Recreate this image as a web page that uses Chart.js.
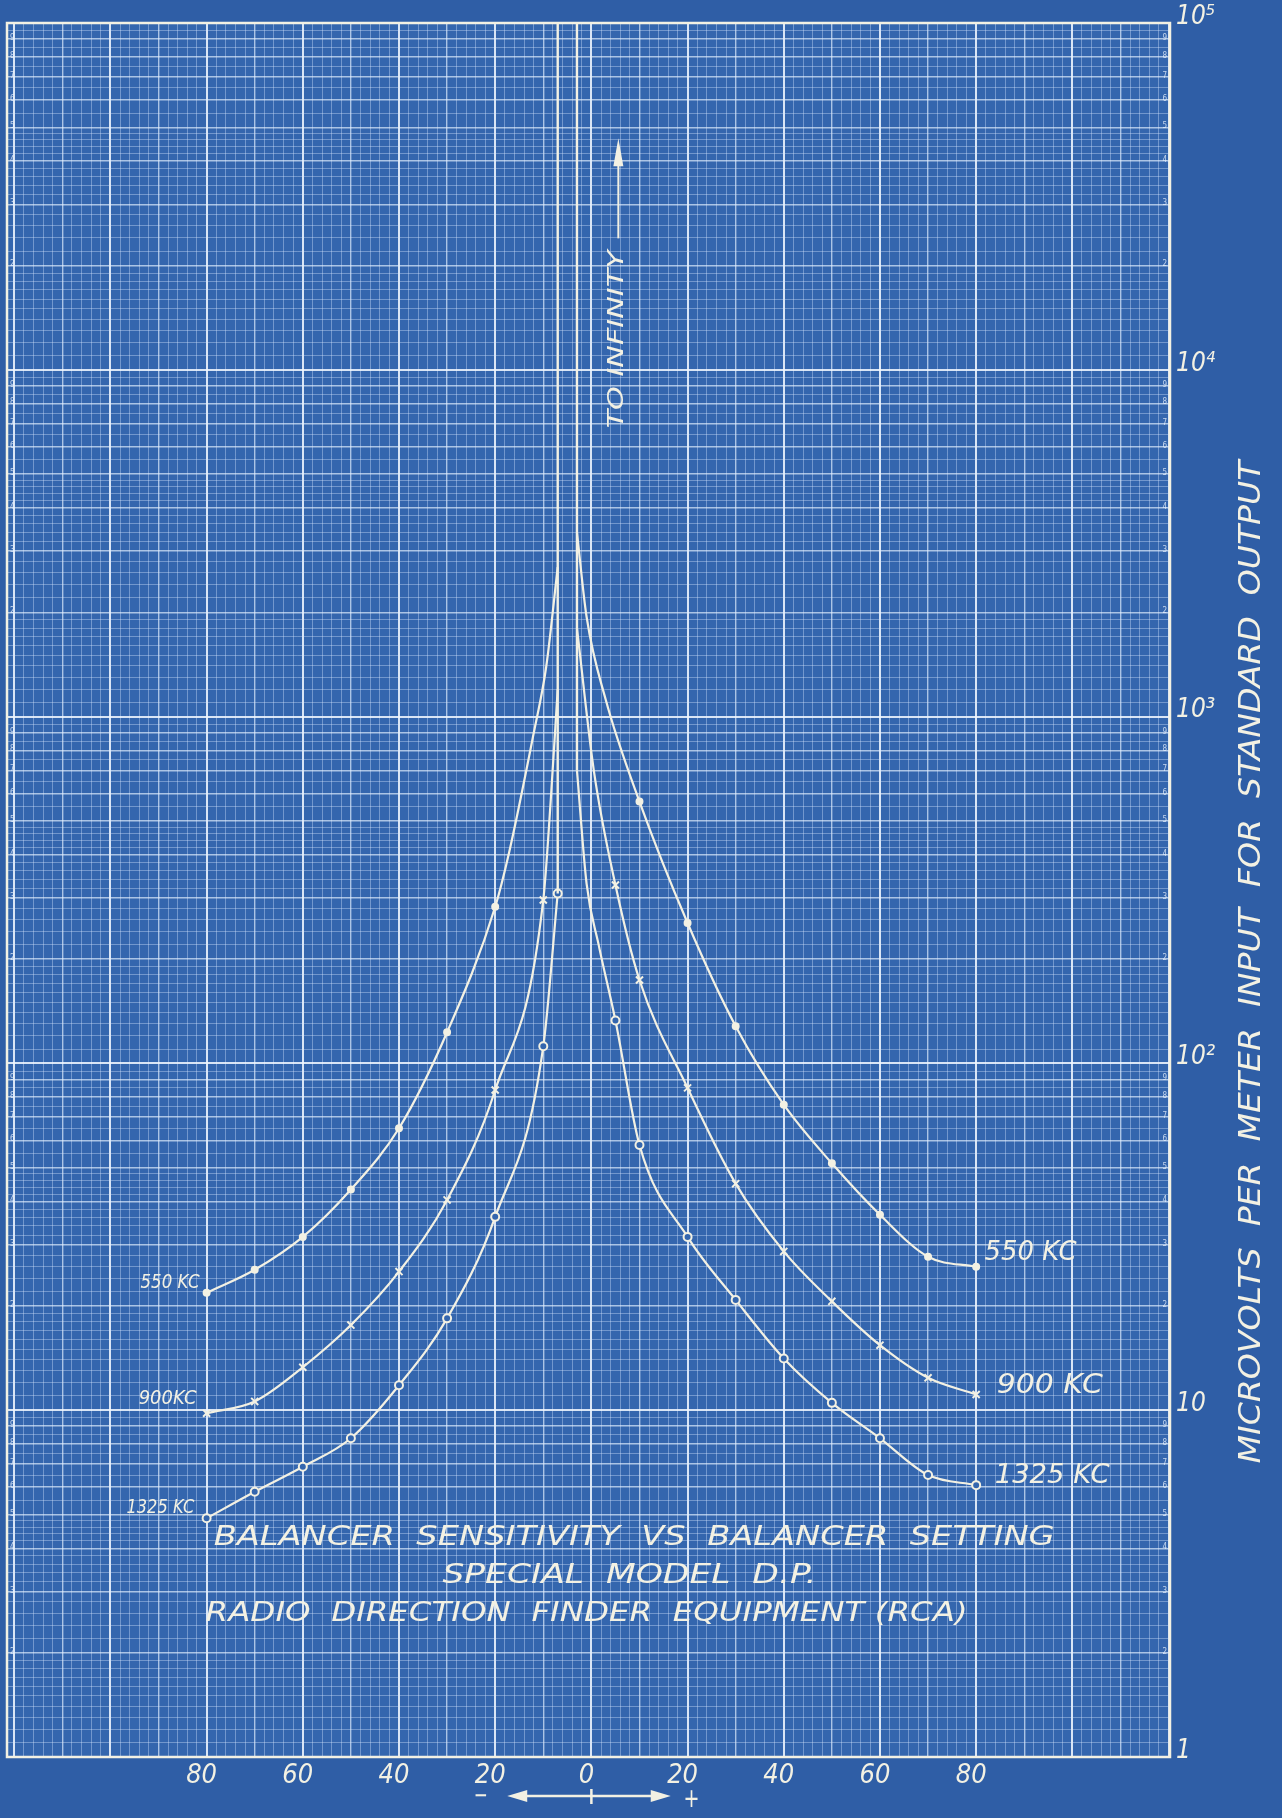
<!DOCTYPE html>
<html>
<head>
<meta charset="utf-8">
<title>Balancer Sensitivity vs Balancer Setting</title>
<script src="https://cdn.jsdelivr.net/npm/chart.js@4.4.1/dist/chart.umd.min.js"></script>
<style>
  html, body { margin: 0; padding: 0; background: #2f5ea6; }
  #chart { display: block; }
</style>
</head>
<body>
<canvas id="chart" width="1282" height="1818"></canvas>
<script>
// ---- values read off the blueprint ----
// x = balancer setting, y = microvolts per meter for standard output

const xTickLabels = [-80, -60, -40, -20, 0, 20, 40, 60, 80];
const yTickLabels = { 1: '1', 10: '10', 100: '10²', 1000: '10³', 10000: '10⁴', 100000: '10⁵' };

// 550 KC
const set550L = [-80, -70, -60, -50, -40, -30, -20];
const val550L = [21.8, 25.4, 31.6, 43.3, 65, 123, 283];
const trace550L = [-17, -12, -9.4, -7];
const traceVal550L = [412, 895, 1390, 2700];
const set550R = [10, 20, 30, 40, 50, 60, 70, 80];
const val550R = [569, 254, 128, 76, 51.5, 36.6, 27.7, 25.9];
const trace550R = [-3, -1, 3];
const traceVal550R = [3400, 1940, 1117];

// 900 KC
const set900L = [-80, -70, -60, -50, -40, -30, -20, -10];
const val900L = [9.8, 10.6, 13.3, 17.6, 25.1, 40.4, 83.8, 296];
const trace900L = [-8.5, -7];
const traceVal900L = [560, 1200];
const set900R = [5, 10, 20, 30, 40, 50, 60, 70, 80];
const val900R = [327, 174, 85, 45, 28.7, 20.6, 15.4, 12.4, 11.1];
const trace900R = [-3, 0.5];
const traceVal900R = [1800, 700];

// 1325 KC
const set1325L = [-80, -70, -60, -50, -40, -30, -20, -10, -7];
const val1325L = [4.88, 5.82, 6.87, 8.3, 11.8, 18.4, 36.1, 112, 309];
const trace1325L = [];
const traceVal1325L = [];
const set1325R = [5, 10, 20, 30, 40, 50, 60, 70, 80];
const val1325R = [133, 58.2, 31.6, 20.8, 14.1, 10.5, 8.3, 6.5, 6.08];
const trace1325R = [-3, -1, 1.5];
const traceVal1325R = [700, 330, 220];

// "to infinity" verticals where the curves run off the top
const infLeftX = -7, infLeftFrom = 309;
const infRightX = -3, infRightFrom = 700;
const yTop = 100000;

// ---- styling ----
const INK = '#f3f1e3';
const PAPER = '#3466ae';
const FONT = "'DejaVu Sans Condensed', 'DejaVu Sans', sans-serif";

function half(mx, my, tx, ty) {
  return mx.map((x, i) => ({ x: x, y: my[i], m: true }))
    .concat(tx.map((x, i) => ({ x: x, y: ty[i], m: false })))
    .sort((a, b) => a.x - b.x);
}
function joined(left, right) {
  return left.concat([{ x: -5, y: null }], right);
}

// paper grid: x every 2 units, log paper subdivisions on y
const xGrid = [];
for (let v = -120; v <= 120; v += 2) xGrid.push(v);
const yGrid = [], yKind = [];
for (let d = 1; d < 1e5; d *= 10) {
  for (let k = 10; k < 20; k++) { yGrid.push(k / 10 * d); yKind.push(k === 10 ? 2 : 0); }
  for (let k = 10; k < 25; k++) { yGrid.push(k / 5 * d); yKind.push(k % 5 === 0 ? 1 : 0); }
  for (let k = 10; k < 20; k++) { yGrid.push(k / 2 * d); yKind.push(k % 2 === 0 ? 1 : 0); }
}
yGrid.push(1e5); yKind.push(2);

function xKind(v) { return v % 20 === 0 ? 2 : (v % 10 === 0 ? 1 : 0); }
const gridColors = ['rgba(215,232,255,0.38)', 'rgba(228,240,255,0.68)', 'rgba(240,247,255,0.88)'];
const gridWidths = [1, 1.4, 2];

function fitText(ctx, text, cx, cy, width, size, angle) {
  ctx.save();
  ctx.font = 'italic ' + size + 'px ' + FONT;
  const w = ctx.measureText(text).width;
  ctx.translate(cx, cy);
  if (angle) ctx.rotate(angle);
  ctx.scale(width / w, 1);
  ctx.textAlign = 'center';
  ctx.textBaseline = 'middle';
  ctx.fillStyle = INK;
  ctx.fillText(text, 0, 0);
  ctx.restore();
}

// text placed in data units
const curveNotes = [
  { text: '550 KC', x: -87.6, y: 23.3, w: 59, size: 19 },
  { text: '900KC', x: -88.1, y: 10.8, w: 58, size: 19 },
  { text: '1325 KC', x: -89.6, y: 5.22, w: 68, size: 19 },
  { text: '550 KC', x: 91.3, y: 28.4, w: 92, size: 26 },
  { text: '900 KC', x: 95.3, y: 11.7, w: 106, size: 26 },
  { text: '1325 KC', x: 95.8, y: 6.46, w: 115, size: 26 }
];
const titleLines = [
  { text: 'BALANCER  SENSITIVITY  VS  BALANCER  SETTING', x: 8.9, y: 4.28, w: 841, size: 27 },
  { text: 'SPECIAL  MODEL  D.P.', x: 7.9, y: 3.33, w: 374, size: 27 },
  { text: 'RADIO  DIRECTION  FINDER  EQUIPMENT (RCA)', x: -1.0, y: 2.58, w: 762, size: 27 }
];

const blueprint = {
  id: 'blueprint',
  beforeDraw(chart) {
    const ctx = chart.ctx, a = chart.chartArea;
    ctx.save();
    ctx.fillStyle = '#2f5ea6';
    ctx.fillRect(0, 0, chart.width, chart.height);
    ctx.fillStyle = PAPER;
    ctx.fillRect(a.left, a.top, a.right - a.left, a.bottom - a.top);
    ctx.restore();
  },
  afterDraw(chart) {
    const ctx = chart.ctx, a = chart.chartArea;
    const xs = chart.scales.x, ys = chart.scales.y;
    ctx.save();
    // frame
    ctx.strokeStyle = INK;
    ctx.lineWidth = 2.5;
    ctx.strokeRect(a.left, a.top, a.right - a.left, a.bottom - a.top);

    // tiny printed numbers of the log paper
    ctx.fillStyle = 'rgba(235,244,255,0.8)';
    ctx.font = '8px ' + FONT;
    ctx.textBaseline = 'middle';
    yGrid.forEach((v, i) => {
      if (yKind[i] !== 1) return;
      const m = Math.round(v / Math.pow(10, Math.floor(Math.log10(v) + 1e-9)));
      const py = ys.getPixelForValue(v);
      ctx.textAlign = 'left';
      ctx.fillText(String(m), a.left + 3, py - 1);
      ctx.textAlign = 'right';
      ctx.fillText(String(m), a.right - 3, py - 1);
    });

    curveNotes.concat(titleLines).forEach(n => {
      fitText(ctx, n.text, xs.getPixelForValue(n.x), ys.getPixelForValue(n.y), n.w, n.size, 0);
    });

    // "TO INFINITY" with arrow
    const ix = xs.getPixelForValue(5.4);
    const iy = ys.getPixelForValue(12240);
    fitText(ctx, 'TO INFINITY', ix, iy, 178, 22, -Math.PI / 2);
    const top = iy - 89;
    ctx.strokeStyle = INK;
    ctx.fillStyle = INK;
    ctx.lineWidth = 2;
    ctx.beginPath();
    ctx.moveTo(ix + 1, top - 12);
    ctx.lineTo(ix + 1, top - 90);
    ctx.stroke();
    ctx.beginPath();
    ctx.moveTo(ix + 1, top - 112);
    ctx.lineTo(ix - 4, top - 84);
    ctx.lineTo(ix + 6, top - 84);
    ctx.closePath();
    ctx.fill();

    // y-axis title
    fitText(ctx, 'MICROVOLTS  PER  METER  INPUT  FOR  STANDARD  OUTPUT',
      chart.width - 30, ys.getPixelForValue(196), 1003, 30, -Math.PI / 2);

    // sign arrow under the x labels
    const ay = a.bottom + 39;
    const x0 = xs.getPixelForValue(0);
    const xl = xs.getPixelForValue(-17.5), xr = xs.getPixelForValue(16.5);
    ctx.lineWidth = 2.5;
    ctx.beginPath();
    ctx.moveTo(xl + 10, ay); ctx.lineTo(xr - 10, ay);
    ctx.moveTo(x0, ay - 7); ctx.lineTo(x0, ay + 8);
    ctx.stroke();
    ctx.beginPath();
    ctx.moveTo(xl, ay); ctx.lineTo(xl + 20, ay - 6); ctx.lineTo(xl + 20, ay + 6); ctx.closePath();
    ctx.moveTo(xr, ay); ctx.lineTo(xr - 20, ay - 6); ctx.lineTo(xr - 20, ay + 6); ctx.closePath();
    ctx.fill();
    fitText(ctx, '−', xs.getPixelForValue(-23), ay + 1, 14, 24, 0);
    fitText(ctx, '+', xs.getPixelForValue(20.8), ay + 4, 16, 26, 0);
    ctx.restore();
  }
};

function curveSet(label, data, style, radius, fill) {
  return {
    label: label,
    data: data,
    borderColor: INK,
    borderWidth: 2.2,
    cubicInterpolationMode: 'monotone',
    spanGaps: false,
    pointStyle: style,
    pointRadius: ctx => (ctx.raw && ctx.raw.m) ? radius : 0,
    pointBorderColor: INK,
    pointBorderWidth: 2,
    pointBackgroundColor: fill
  };
}
function vertical(label, x, from) {
  return {
    label: label,
    data: [{ x: x, y: from }, { x: x, y: yTop }],
    borderColor: INK,
    borderWidth: 2.4,
    pointRadius: 0,
    tension: 0
  };
}

new Chart(document.getElementById('chart'), {
  type: 'line',
  data: {
    datasets: [
      vertical('left limit', infLeftX, infLeftFrom),
      vertical('right limit', infRightX, infRightFrom),
      curveSet('550 KC', joined(half(set550L, val550L, trace550L, traceVal550L),
        half(set550R, val550R, trace550R, traceVal550R)), 'circle', 3, INK),
      curveSet('900 KC', joined(half(set900L, val900L, trace900L, traceVal900L),
        half(set900R, val900R, trace900R, traceVal900R)), 'crossRot', 5, INK),
      curveSet('1325 KC', joined(half(set1325L, val1325L, trace1325L, traceVal1325L),
        half(set1325R, val1325R, trace1325R, traceVal1325R)), 'circle', 4, PAPER)
    ]
  },
  options: {
    responsive: false,
    animation: false,
    events: [],
    layout: { padding: { left: 7, top: 23, right: 0, bottom: 0 } },
    plugins: { legend: { display: false }, tooltip: { enabled: false } },
    scales: {
      x: {
        type: 'linear',
        position: 'bottom',
        min: -121.5,
        max: 120.3,
        afterBuildTicks: s => { s.ticks = xGrid.map(v => ({ value: v })); },
        afterFit: s => { s.height = 61; },
        border: { display: false },
        grid: {
          drawTicks: false,
          color: c => gridColors[xKind(c.tick.value)],
          lineWidth: c => gridWidths[xKind(c.tick.value)]
        },
        ticks: {
          autoSkip: false,
          maxRotation: 0,
          padding: 3,
          labelOffset: -5,
          color: INK,
          font: { family: FONT, size: 27, style: 'italic' },
          callback: v => xTickLabels.includes(v) ? String(Math.abs(v)) : ''
        }
      },
      y: {
        type: 'logarithmic',
        position: 'right',
        min: 1,
        max: 100000,
        afterBuildTicks: s => { s.ticks = yGrid.map(v => ({ value: v })); },
        afterFit: s => { s.width = 112; },
        border: { display: false },
        grid: {
          drawTicks: false,
          color: c => gridColors[yKind[c.index]],
          lineWidth: c => gridWidths[yKind[c.index]]
        },
        ticks: {
          autoSkip: false,
          padding: 6,
          labelOffset: -6,
          color: INK,
          font: { family: FONT, size: 26, style: 'italic' },
          callback: v => yTickLabels[v] || ''
        }
      }
    }
  },
  plugins: [blueprint]
});
</script>
</body>
</html>
